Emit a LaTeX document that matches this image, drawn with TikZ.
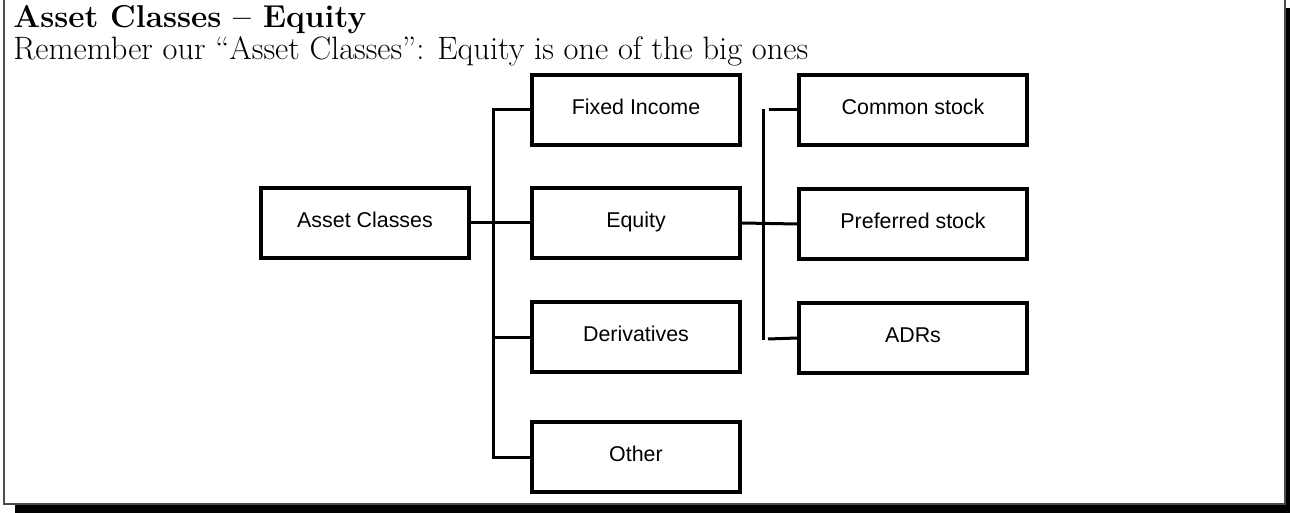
\documentclass[tikz,border=0pt]{standalone}
\usepackage{fontspec}
\newfontfamily\boxfont{Liberation Sans}
\usepackage{tikz}
\usetikzlibrary{calc}

\tikzset{
  assetbox/.style={draw, line width=2pt, minimum width=104pt, minimum height=35pt,
    inner sep=0pt, text height=7pt, text depth=2.3pt,
    font=\boxfont\fontsize{10.7}{12}\selectfont},
  stockbox/.style={assetbox, minimum width=114pt},
  headline/.style={anchor=base west, font=\fontsize{16.2}{19}\selectfont},
  link/.style={line width=1.5pt},
}

\begin{document}
\begin{tikzpicture}[x=0.5pt, y=-0.5pt, every node/.style={inner sep=0pt}]
  \useasboundingbox (0,0) rectangle (1290,513);

  % frame with shadow
  \fill[black] (15,8) rectangle (1290,513);
  \filldraw[fill=white, draw=black!70, line width=0.8pt] (4,-10) rectangle (1285,504);

  \node[headline, font=\fontsize{15.8}{19}\selectfont\bfseries] (title) at (13,28) {Asset Classes -- Equity};
  \node[headline] (subtitle) at (13,60) {Remember our ``Asset Classes'': Equity is one of the big ones};

  \coordinate (bus) at (493,0);
  \coordinate (rbus) at (763,0);

  \node[assetbox] (asset)  at (365,223) {Asset Classes};
  \node[assetbox] (fixed)  at (636,110) {Fixed Income};
  \node[assetbox] (equity) at (636,223) {Equity};
  \node[assetbox] (deriv)  at (636,337) {Derivatives};
  \node[assetbox] (other)  at (636,457) {Other};

  \node[stockbox] (common) at (913,110) {Common stock};
  \node[stockbox] (pref)   at (913,224) {Preferred stock};
  \node[stockbox] (adr)    at (913,338) {ADRs};

  \draw[link] (fixed.west) -- (fixed.west -| bus) -- (other.west -| bus) -- (other.west);
  \draw[link] (asset) -- (equity);
  \draw[link] (deriv.west) -- (deriv.west -| bus);

  \draw[link] ($(common.west -| rbus)+(0,-1)$) -- ($(adr.west -| rbus)+(0,2)$);
  \draw[link] (common.west) -- ($(common.west -| rbus)+(6,0)$);
  \draw[link] (equity.east) -- (pref.west);
  \draw[link] (adr.west) -- ($(adr.west -| rbus)+(5,1)$);
\end{tikzpicture}
\end{document}
